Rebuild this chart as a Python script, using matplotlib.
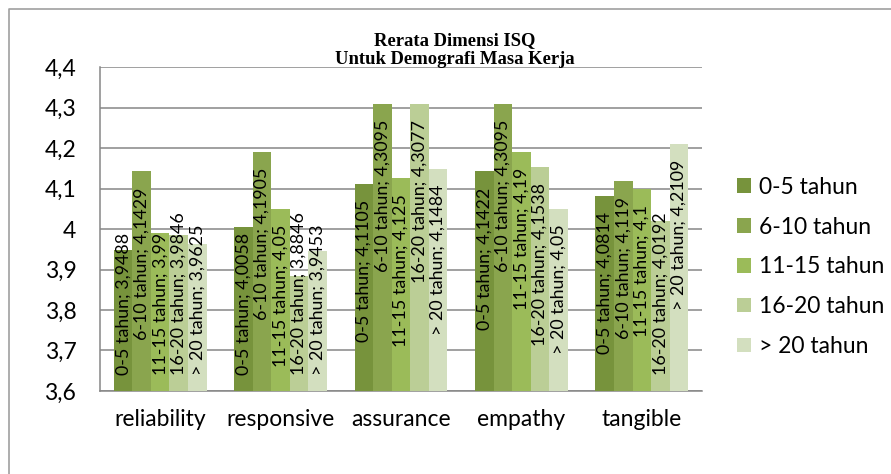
import matplotlib.pyplot as plt
import matplotlib.lines as mlines
import numpy as np

plt.rcParams['font.family'] = ['Lato', 'DejaVu Sans']

categories = ['reliability', 'responsive', 'assurance', 'empathy', 'tangible']
groups = ['0-5 tahun', '6-10 tahun', '11-15 tahun', '16-20 tahun', '> 20 tahun']
values = {
    '0-5 tahun': [3.9488, 4.0058, 4.1105, 4.1422, 4.0814],
    '6-10 tahun': [4.1429, 4.1905, 4.3095, 4.3095, 4.119],
    '11-15 tahun': [3.99, 4.05, 4.125, 4.19, 4.1],
    '16-20 tahun': [3.9846, 3.8846, 4.3077, 4.1538, 4.0192],
    '> 20 tahun': [3.9625, 3.9453, 4.1484, 4.05, 4.2109],
}
colors = ['#77933C', '#8AA54E', '#9BBB59', '#BBCE96', '#D3DFBF']
yticks = [3.6, 3.7, 3.8, 3.9, 4.0, 4.1, 4.2, 4.3, 4.4]
ytick_labels = ['3,6', '3,7', '3,8', '3,9', '4', '4,1', '4,2', '4,3', '4,4']

W, H = 891, 474
fig = plt.figure(figsize=(W / 100, H / 100), dpi=100)
ax = fig.add_axes([100 / W, 1 - 391 / H, 602 / W, 324 / H])

x = np.arange(len(categories))
bw = 1 / 6.5
lab_size = 12.9
pad_px = 16
texts = []
for i, g in enumerate(groups):
    xs = x + (i - 2) * bw
    vals = values[g]
    ax.bar(xs, np.array(vals) - 3.6, bottom=3.6, width=bw, color=colors[i],
           label=g, zorder=3)
    for xi, v in zip(xs, vals):
        lbl = f"{g}; {v:g}".replace('.', ',')
        t = ax.annotate(lbl, xy=(xi, v), xytext=(0, -pad_px), textcoords='offset pixels',
                        rotation=90, ha='center', va='top', fontsize=lab_size, zorder=4)
        texts.append((t, xi, lbl))

ax.set_xlim(-0.5, len(categories) - 0.5)
ax.set_ylim(3.6, 4.4)
ax.set_yticks(yticks)
ax.set_yticklabels(ytick_labels, fontsize=16.5)
ax.set_xticks(x)
ax.set_xticklabels(categories, fontsize=16.5)
ax.tick_params(axis='both', length=0)
ax.tick_params(axis='y', pad=17)
ax.tick_params(axis='x', pad=13)
ax.grid(axis='y', color='#868686', linewidth=1.1, zorder=0)
for s in ['top', 'right']:
    ax.spines[s].set_visible(False)
for s in ['left', 'bottom']:
    ax.spines[s].set_color('#868686')
    ax.spines[s].set_linewidth(1.1)

# labels that run past the axis base get anchored at the base instead
fig.canvas.draw()
renderer = fig.canvas.get_renderer()
base_px = ax.transData.transform((0, 3.6))[1]
for t, xi, lbl in texts:
    bb = t.get_window_extent(renderer)
    if bb.y0 < base_px + pad_px:
        t.remove()
        ax.annotate(lbl, xy=(xi, 3.6), xytext=(0, pad_px), textcoords='offset pixels',
                    rotation=90, ha='center', va='bottom', fontsize=lab_size, zorder=4)

ax.legend(loc='center left', bbox_to_anchor=(628 / 602, 0.383), frameon=False,
          fontsize=16.5, handlelength=0.6, handleheight=0.6, handletextpad=0.35,
          labelspacing=0.82, borderaxespad=0)

fig.text(455 / W, 1 - 50 / H, 'Rerata Dimensi ISQ\nUntuk Demografi Masa Kerja',
         ha='center', va='center', family='Liberation Serif', fontweight='bold',
         fontsize=13.4, linespacing=1.2)

# chart frame
fig.add_artist(mlines.Line2D([8.5 / W, 8.5 / W, 1.0], [0, 1 - 8.5 / H, 1 - 8.5 / H],
                             transform=fig.transFigure, color='#A0A0A0', linewidth=1.2))

fig.savefig('out.png', dpi=100)
